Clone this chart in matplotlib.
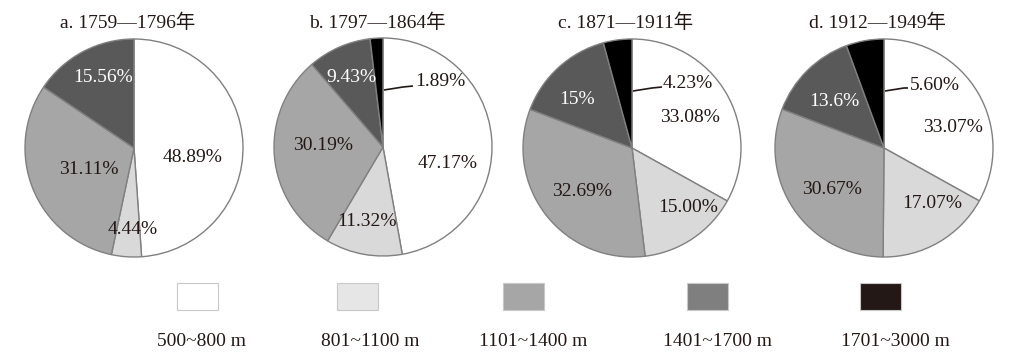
import matplotlib
matplotlib.use("Agg")
import matplotlib.pyplot as plt
from matplotlib.patches import Rectangle

plt.rcParams['font.family'] = ['Liberation Serif', 'Noto Sans CJK SC']

# ---------------- data ----------------
titles = ["a. 1759—1796年", "b. 1797—1864年", "c. 1871—1911年", "d. 1912—1949年"]
categories = ["500~800 m", "801~1100 m", "1101~1400 m", "1401~1700 m", "1701~3000 m"]
vals_a = [48.89, 4.44, 31.11, 15.56, 0.0]
vals_b = [47.17, 11.32, 30.19, 9.43, 1.89]
vals_c = [33.08, 15.00, 32.69, 15.0, 4.23]
vals_d = [33.07, 17.07, 30.67, 13.6, 5.60]
labels_a = ["48.89%", "4.44%", "31.11%", "15.56%", ""]
labels_b = ["47.17%", "11.32%", "30.19%", "9.43%", "1.89%"]
labels_c = ["33.08%", "15.00%", "32.69%", "15%", "4.23%"]
labels_d = ["33.07%", "17.07%", "30.67%", "13.6%", "5.60%"]

series = [vals_a, vals_b, vals_c, vals_d]
labels = [labels_a, labels_b, labels_c, labels_d]

# ---------------- style / layout ----------------
pie_colors = ["#ffffff", "#d9d9d9", "#a6a6a6", "#595959", "#000000"]
legend_colors = ["#ffffff", "#e6e6e6", "#a6a6a6", "#7f7f7f", "#231815"]
text_colors = ["#231815", "#231815", "#231815", "#ffffff", "#231815"]
W, H = 1019, 355
centers = [(134, 148), (383, 147), (632, 148), (884, 148)]
radius = 109
title_x = [128, 377, 626, 878]
title_y = 23
# label positions in pixels (figure coords, y down)
label_pos = [
    [(193, 157), (133, 230), (89, 170), (103, 78), None],
    [(448, 163), (367, 222), (323, 145), (351, 77), (440, 82)],
    [(690, 118), (688, 208), (582, 192), (577, 100), (688, 83)],
    [(953, 127), (932, 203), (832, 190), (834, 102), (935, 85)],
]
leader_ends = [None, (413, 86), (662, 87), (908, 88)]
legend_x = [177, 337, 503, 687, 860]
legend_w, legend_h = 41, 27
legend_y = 283
legend_label_x = [202, 370, 533, 718, 895]
legend_label_y = 342
fs = 14

fig = plt.figure(figsize=(W / 100, H / 100), dpi=100)
ax = fig.add_axes([0, 0, 1, 1])

def Y(y):
    return H - y

for i, vals in enumerate(series):
    cx, cy = centers[i]
    idx = [k for k, v in enumerate(vals) if v > 0]
    ax.pie([vals[k] for k in idx], colors=[pie_colors[k] for k in idx],
           startangle=90, counterclock=False, center=(cx, Y(cy)), radius=radius,
           wedgeprops=dict(edgecolor="#808080", linewidth=1.0), frame=True)
    ax.text(title_x[i], Y(title_y), titles[i], ha='center', va='center',
            fontsize=fs, color="#231815")
    for k in idx:
        pos = label_pos[i][k]
        if pos is None:
            continue
        ax.text(pos[0], Y(pos[1]), labels[i][k], ha='center', va='center',
                fontsize=fs, color=text_colors[k])
    if leader_ends[i] is not None:
        ex, ey = leader_ends[i]
        ax.plot([cx + 1, cx + 20, ex], [Y(cy - 57), Y(cy - 60), Y(ey)],
                color="#231815", lw=1.2, solid_capstyle='butt')

ax.set_xlim(0, W)
ax.set_ylim(0, H)
ax.set_aspect('equal')
ax.axis('off')

for j, cat in enumerate(categories):
    ax.add_patch(Rectangle((legend_x[j], Y(legend_y + legend_h)), legend_w, legend_h,
                           facecolor=legend_colors[j], edgecolor="#c8c8c8", lw=0.8))
    ax.text(legend_label_x[j], Y(legend_label_y), cat, ha='center', va='center',
            fontsize=fs, color="#231815")

fig.savefig("out.png", dpi=100)
